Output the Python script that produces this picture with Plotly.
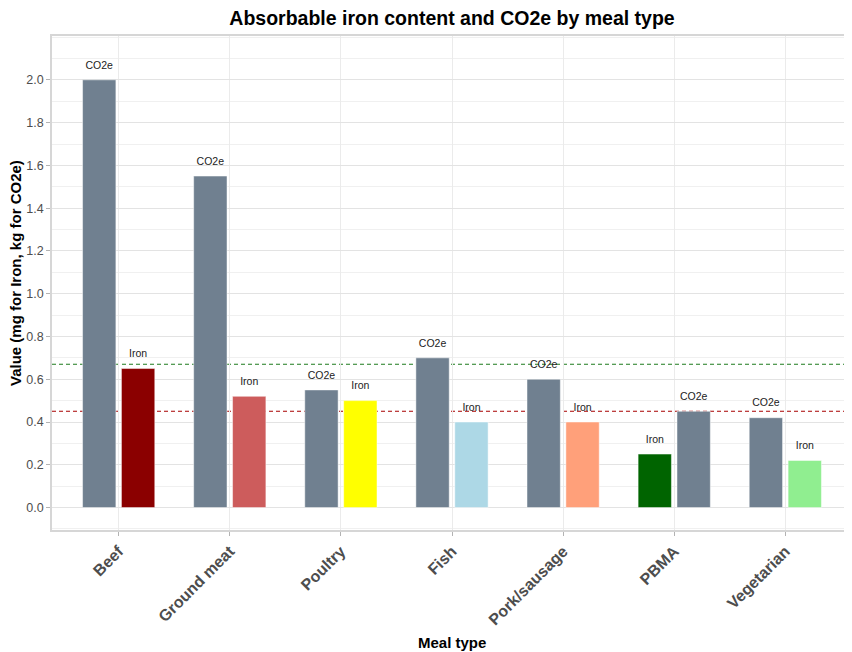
import plotly.graph_objects as go

categories = ["Beef", "Ground meat", "Poultry", "Fish", "Pork/sausage", "PBMA", "Vegetarian"]
co2e_values = [2.00, 1.55, 0.55, 0.70, 0.60, 0.45, 0.42]
iron_values = [0.65, 0.52, 0.50, 0.40, 0.40, 0.25, 0.22]
iron_colors = ["#8B0000", "#CD5C5C", "#FFFF00", "#ADD8E6", "#FFA07A", "#006400", "#90EE90"]
iron_first = [False, False, False, False, False, True, False]
co2e_color = "#708090"
ref_lines = [0.67, 0.45]
ref_colors = ["#1E7B1E", "#A80000"]
y_ticks = [0.0, 0.2, 0.4, 0.6, 0.8, 1.0, 1.2, 1.4, 1.6, 1.8, 2.0]

FONT = "Liberation Sans, Arial, sans-serif"
slot = 0.35
bw = 0.30

# page has an 8px body margin; figure sized to fill the remaining window
W, H = 844, 644
ML, MT, MR, MB = 44, 28, 0, 122
PW, PH = W - ML - MR, H - MT - MB

xs, ys, cols, labels = [], [], [], []
for i, cat in enumerate(categories):
    pair = [("CO2e", co2e_values[i], co2e_color), ("Iron", iron_values[i], iron_colors[i])]
    if iron_first[i]:
        pair = pair[::-1]
    for j, (lab, v, c) in enumerate(pair):
        xs.append(i + (j - 0.5) * slot)
        ys.append(v)
        cols.append(c)
        labels.append(lab)

fig = go.Figure()
fig.add_trace(go.Bar(
    x=xs, y=ys, width=bw,
    marker=dict(color=cols, line=dict(color="rgba(255,255,255,0.6)", width=0.8)),
    showlegend=False, hoverinfo="skip",
))
fig.add_trace(go.Scatter(
    x=xs, y=[v + 0.065 for v in ys], mode="text", text=labels,
    textfont=dict(family=FONT, size=10.5, color="#222222"),
    showlegend=False, hoverinfo="skip",
))

for val, col in zip(ref_lines, ref_colors):
    fig.add_shape(type="line", xref="paper", x0=0, x1=1, yref="y", y0=val, y1=val,
                  line=dict(color=col, width=1.1, dash="4px,3px"), layer="below")

fig.add_annotation(text="<b>Value (mg for Iron, kg for CO2e)</b>", textangle=-90,
                   xref="paper", yref="paper", x=(7 - ML) / PW, y=(MT + PH - 265) / PH,
                   xanchor="center", yanchor="middle", showarrow=False,
                   font=dict(size=15, color="black", family=FONT))
fig.add_annotation(text="<b>Meal type</b>",
                   xref="paper", yref="paper", x=0.5, y=(MT + PH - 634) / PH,
                   xanchor="center", yanchor="middle", showarrow=False,
                   font=dict(size=15, color="black", family=FONT))

fig.update_layout(
    width=W, height=H,
    margin=dict(l=ML, r=MR, t=MT, b=MB),
    paper_bgcolor="white", plot_bgcolor="white",
    font=dict(family=FONT),
    title=dict(text="<b>Absorbable iron content and CO2e by meal type</b>",
               x=0.5, xref="paper", xanchor="center", y=1 - 10 / H, yref="container", yanchor="middle",
               font=dict(size=19.5, color="black")),
    xaxis=dict(
        range=[-0.6, len(categories) - 0.4],
        tickmode="array", tickvals=list(range(len(categories))),
        ticktext=["<b>%s</b>" % c for c in categories],
        tickangle=-45, tickfont=dict(size=16, color="#4D4D4D"),
        showgrid=True, gridcolor="#EBEBEB", gridwidth=1,
        showline=True, linecolor="#D6D6D6", linewidth=1.5, mirror=True,
        ticks="outside", ticklen=4, tickcolor="#B3B3B3",
        zeroline=False, automargin=False,
    ),
    yaxis=dict(
        range=[-0.105, 2.205],
        tickmode="array", tickvals=y_ticks, ticktext=["%.1f" % t for t in y_ticks],
        tickfont=dict(size=12.5, color="#4D4D4D"),
        showgrid=True, gridcolor="#E3E3E3", gridwidth=1,
        minor=dict(tickmode="linear", tick0=0, dtick=0.1, showgrid=True, gridcolor="#F0F0F0", gridwidth=1),
        showline=True, linecolor="#D6D6D6", linewidth=1.5, mirror=True,
        ticks="outside", ticklen=4, tickcolor="#B3B3B3",
        zeroline=False, automargin=False,
    ),
)

fig.write_html("out.html")
